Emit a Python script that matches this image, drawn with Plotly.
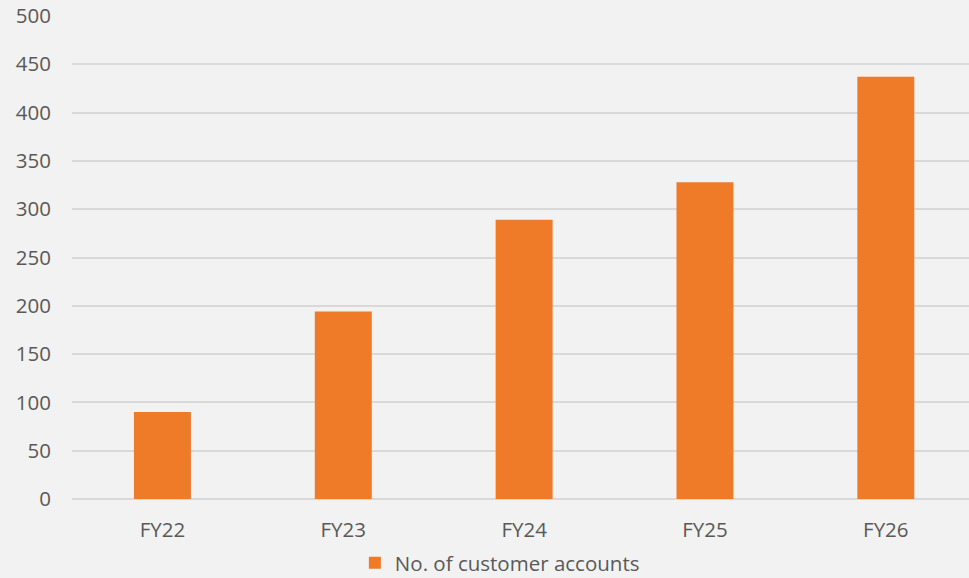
import plotly.graph_objects as go

categories = ["FY22", "FY23", "FY24", "FY25", "FY26"]
accounts = [90, 194, 289, 328, 437]
series_name = "No. of customer accounts"
y_ticks = [0, 50, 100, 150, 200, 250, 300, 350, 400, 450, 500]

BG = "#f2f2f2"
GRID = "#d9d9d9"
TXT = "#595959"
ORANGE = "#EF7A28"
FONT = "Open Sans"
FS = 20.5

fig = go.Figure()
fig.add_trace(go.Bar(
    x=categories, y=accounts, name=series_name,
    marker=dict(color=ORANGE, line=dict(width=0)),
    width=0.315, showlegend=True,
))

fig.update_layout(
    width=969, height=578,
    paper_bgcolor=BG, plot_bgcolor=BG,
    margin=dict(l=72, r=0, t=16, b=79, autoexpand=False),
    font=dict(family=FONT, size=FS, color=TXT),
    showlegend=True,
    legend=dict(orientation="h", x=0.477, xanchor="center", yref="container", y=0.026,
                yanchor="middle",
                font=dict(family=FONT, size=FS, color=TXT), bgcolor="rgba(0,0,0,0)",
                itemsizing="constant", itemwidth=30),
    xaxis=dict(range=[-0.5, 4.46], showgrid=False, showline=False, zeroline=False,
               ticks="", ticklabelstandoff=16, tickfont=dict(size=FS, color=TXT)),
    yaxis=dict(range=[0, 500], tickvals=y_ticks, showgrid=True, gridcolor=GRID, gridwidth=2,
               zeroline=True, zerolinecolor=GRID, zerolinewidth=2, showline=False,
               ticks="", ticklabelstandoff=20, tickfont=dict(size=FS, color=TXT)),
)

fig.write_html("out.html", config={"displayModeBar": False},
               post_script="document.body.style.margin='0';document.body.style.background='%s';" % BG)
